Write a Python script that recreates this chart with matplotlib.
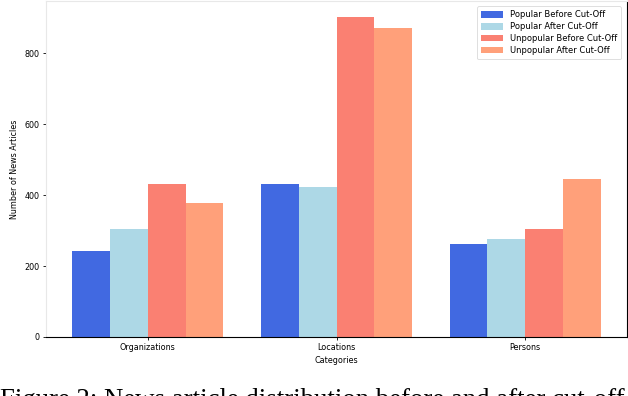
import numpy as np
import matplotlib
matplotlib.use("Agg")
import matplotlib.pyplot as plt

categories = ["Organizations", "Locations", "Persons"]
series_names = ["Popular Before Cut-Off", "Popular After Cut-Off",
                "Unpopular Before Cut-Off", "Unpopular After Cut-Off"]
popular_before = [243, 432, 263]
popular_after = [305, 423, 277]
unpopular_before = [432, 902, 305]
unpopular_after = [378, 871, 446]
series_values = [popular_before, popular_after, unpopular_before, unpopular_after]
colors = ["#4169E1", "#ADD8E6", "#FA8072", "#FFA07A"]

fig = plt.figure(figsize=(6.28, 3.96), dpi=100)
ax = fig.add_axes([46 / 628, 1 - 337 / 396, (627 - 46) / 628, (337 - 1) / 396])

x = np.arange(len(categories))
width = 0.2
for i, (name, vals, c) in enumerate(zip(series_names, series_values, colors)):
    ax.bar(x + (i - 1.5) * width, vals, width, label=name, color=c)

ax.set_xticks(x)
ax.set_xticklabels(categories, fontsize=5.8)
ax.tick_params(axis="y", labelsize=5.8, length=2.5, width=0.6, pad=2)
ax.tick_params(axis="x", length=2.5, width=0.6, pad=2)
ax.set_yticks([0, 200, 400, 600, 800])
ax.set_xlabel("Categories", fontsize=5.8, labelpad=3)
ax.set_ylabel("Number of News Articles", fontsize=5.8, labelpad=4)

ax.spines["top"].set_color("#e8e8e8")
ax.spines["left"].set_color("#e8e8e8")
ax.spines["right"].set_color("black")
ax.spines["bottom"].set_color("black")
for s in ax.spines.values():
    s.set_linewidth(0.8)

leg = ax.legend(loc="upper right", fontsize=6.0, frameon=True, fancybox=True,
                handlelength=2.6, handleheight=0.8, borderpad=0.5,
                labelspacing=0.35, bbox_to_anchor=(0.997, 0.997))
leg.get_frame().set_edgecolor("#d0d0d0")
leg.get_frame().set_linewidth(0.6)

fig.text(0.0, 1 - 407 / 396,
         "Figure 2: News article distribution before and after cut-off",
         fontsize=19.3, family="Liberation Serif", va="baseline", ha="left")

fig.savefig("out.png", dpi=100)
